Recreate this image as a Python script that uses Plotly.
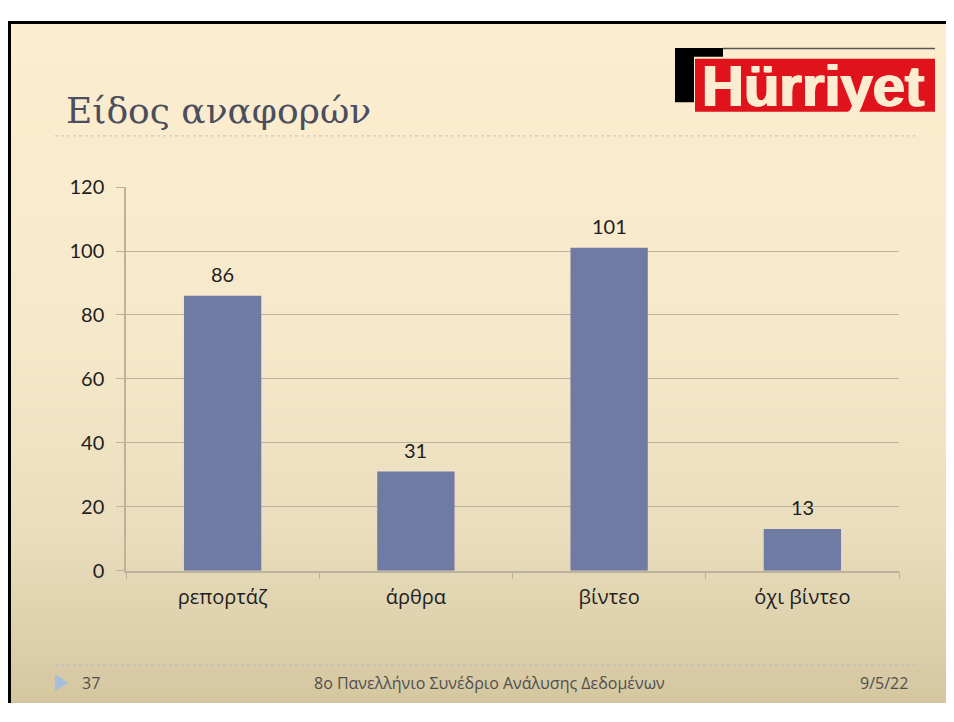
import plotly.graph_objects as go

# page is 954x722 but the browser adds an 8px body margin,
# so the figure is sized to fit inside it and positions are given in page pixels
PAGE_W, PAGE_H = 954, 722
OFF = 8
W, H = PAGE_W - 2 * OFF, PAGE_H - 2 * OFF

categories = ["ρεπορτάζ", "άρθρα", "βίντεο", "όχι βίντεο"]
counts = [86, 31, 101, 13]
y_ticks = [0, 20, 40, 60, 80, 100, 120]

TITLE = "Είδος αναφορών"
FOOTER = "8ο Πανελλήνιο Συνέδριο Ανάλυσης Δεδομένων"
SLIDE_NO = "37"
DATE = "9/5/22"

BAR_COLOR = "#6f7ba3"
GRID = "#bdb39c"
TEXT = "#1e1e1e"
CREAM = "#fcecd0"


def px(x):
    return (x - OFF) / W


def py(y):
    return 1 - (y - OFF) / H


def mix(c1, c2, t):
    return tuple(round(a + (b - a) * t) for a, b in zip(c1, c2))


# slide background: cream fading to tan towards the bottom
stops = [(0.0, (253, 237, 208)), (0.45, (246, 233, 203)),
         (0.75, (233, 221, 189)), (1.0, (212, 198, 158))]
shapes = []
band = 8
for top in range(0, H, band):
    t = top / H
    for (t0, c0), (t1, c1) in zip(stops, stops[1:]):
        if t0 <= t <= t1:
            c = mix(c0, c1, (t - t0) / (t1 - t0))
            break
    shapes.append(dict(
        type="rect", xref="paper", yref="paper", layer="below",
        x0=0, x1=1, y0=max(0, 1 - (top + band + 1) / H), y1=1 - top / H,
        fillcolor="rgb(%d,%d,%d)" % c, line_width=0,
    ))

# black slide frame (top and left edges visible)
shapes.append(dict(type="line", xref="paper", yref="paper",
                   x0=0, x1=1, y0=1 - 1.5 / H, y1=1 - 1.5 / H,
                   line=dict(color="black", width=3)))
shapes.append(dict(type="line", xref="paper", yref="paper",
                   x0=1.5 / W, x1=1.5 / W, y0=0, y1=1,
                   line=dict(color="black", width=3)))

# dashed separators under title and above footer
shapes.append(dict(type="line", xref="paper", yref="paper",
                   x0=px(55), x1=px(919), y0=py(127), y1=py(127),
                   line=dict(color="#c9cdd0", width=1.2, dash="3px,3px")))
shapes.append(dict(type="line", xref="paper", yref="paper",
                   x0=px(55), x1=px(918), y0=py(675), y1=py(675),
                   line=dict(color="#a9c4dc", width=1.2, dash="3px,3px")))

# footer triangle
shapes.append(dict(type="path", xref="paper", yref="paper",
                   path="M %f %f L %f %f L %f %f Z" % (
                       px(55), py(684), px(68), py(693), px(55), py(702)),
                   fillcolor="#a4c0dd", line_width=0))

# Hürriyet logo blocks
shapes.append(dict(type="rect", xref="paper", yref="paper",
                   x0=px(675), x1=px(723), y0=py(45), y1=py(36),
                   fillcolor="black", line_width=0))
shapes.append(dict(type="rect", xref="paper", yref="paper",
                   x0=px(675), x1=px(694), y0=py(92), y1=py(36),
                   fillcolor="black", line_width=0))
shapes.append(dict(type="rect", xref="paper", yref="paper",
                   x0=px(695), x1=px(935), y0=py(102), y1=py(47),
                   fillcolor="#e0121b", line_width=0))
shapes.append(dict(type="line", xref="paper", yref="paper",
                   x0=px(723), x1=px(935), y0=py(36.5), y1=py(36.5),
                   line=dict(color="#555555", width=1.5)))

fig = go.Figure()
fig.add_trace(go.Bar(
    x=categories, y=counts,
    marker_color=BAR_COLOR, marker_line_width=0,
    width=0.4, hoverinfo="x+y",
))

annotations = []
for cat, val in zip(categories, counts):
    annotations.append(dict(
        x=cat, y=val, xref="x", yref="y", text=str(val), showarrow=False,
        yanchor="bottom", yshift=8,
        font=dict(family="Lato, Open Sans, sans-serif", size=20, color=TEXT),
    ))

annotations += [
    dict(x=px(64), y=py(124), xref="paper", yref="paper", text=TITLE,
         showarrow=False, xanchor="left", yanchor="bottom",
         font=dict(family="DejaVu Serif", size=36, color="#4a4e5e")),
    dict(x=px(813), y=py(75), xref="paper", yref="paper", text="<b>Hürriyet</b>",
         showarrow=False, xanchor="center", yanchor="middle",
         font=dict(family="Liberation Sans", size=58, color=CREAM,
                   shadow="1px 0px 0px %s, -1px 0px 0px %s" % (CREAM, CREAM))),
    dict(x=px(80), y=py(693), xref="paper", yref="paper", text=SLIDE_NO,
         showarrow=False, xanchor="left", yanchor="middle",
         font=dict(family="Open Sans", size=16, color="#4f4f4f")),
    dict(x=px(490), y=py(693), xref="paper", yref="paper", text=FOOTER,
         showarrow=False, xanchor="center", yanchor="middle",
         font=dict(family="Open Sans", size=16, color="#4f4f4f")),
    dict(x=px(910), y=py(693), xref="paper", yref="paper", text=DATE,
         showarrow=False, xanchor="right", yanchor="middle",
         font=dict(family="Open Sans", size=16, color="#4f4f4f")),
]

fig.update_layout(
    width=W, height=H,
    margin=dict(l=0, r=0, t=0, b=0),
    paper_bgcolor="white",
    plot_bgcolor="rgba(0,0,0,0)",
    showlegend=False,
    shapes=shapes,
    annotations=annotations,
    xaxis=dict(
        domain=[px(126), px(899)],
        showline=True, linecolor=GRID, linewidth=1.5,
        ticks="outside", tickson="boundaries", ticklen=7, tickcolor=GRID,
        showgrid=False,
        tickfont=dict(family="Open Sans", size=20, color=TEXT),
        ticklabelstandoff=8,
    ),
    yaxis=dict(
        domain=[py(577), py(180)],
        range=[0, 120], tickvals=y_ticks,
        showline=True, linecolor=GRID, linewidth=1.5,
        showgrid=True, gridcolor=GRID, gridwidth=1.2,
        ticks="outside", ticklen=8, tickcolor=GRID,
        tickfont=dict(family="Lato, Open Sans, sans-serif", size=20, color=TEXT),
        ticklabelstandoff=8,
        zeroline=False,
    ),
)

fig.write_html("out.html")
